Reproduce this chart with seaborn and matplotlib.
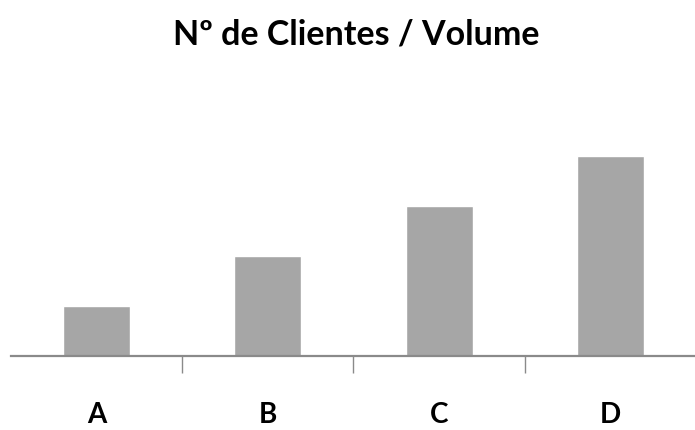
import matplotlib
matplotlib.use("Agg")
import matplotlib.pyplot as plt
import seaborn as sns
import pandas as pd
from matplotlib.ticker import FixedLocator

# Data
categories = ["A", "B", "C", "D"]
values = [1, 2, 3, 4]
title_text = "Nº de Clientes / Volume"

sns.set_theme(style="white")
plt.rcParams["font.family"] = ["Lato", "DejaVu Sans"]

df = pd.DataFrame({"categoria": categories, "valor": values})

fig = plt.figure(figsize=(6.95, 4.30), dpi=100)
ax = fig.add_axes([11 / 695, 74 / 430, 685 / 695, 220 / 430])

sns.barplot(data=df, x="categoria", y="valor", color="#A6A6A6",
            saturation=1, width=0.39, ax=ax)

ax.set_xlim(-0.5, 3.5)
ax.set_ylim(0, 4.4)
ax.set_xlabel("")
ax.set_ylabel("")
ax.set_yticks([])

for side in ["top", "right", "left"]:
    ax.spines[side].set_visible(False)
ax.spines["bottom"].set_color("#8A8A8A")
ax.spines["bottom"].set_linewidth(1.6)

# Category separators below the baseline
ax.xaxis.set_minor_locator(FixedLocator([0.5, 1.5, 2.5]))
ax.tick_params(axis="x", which="minor", bottom=True, length=12.5,
               width=1.0, color="#8A8A8A")
ax.tick_params(axis="x", which="major", bottom=False, length=0, pad=33,
               labelsize=20, labelcolor="#000000")
for lbl in ax.get_xticklabels():
    lbl.set_fontweight("bold")

fig.text(356 / 695, 1 - 34 / 430, title_text, ha="center", va="center",
         fontsize=24.5, fontweight="bold", color="#000000")

fig.savefig("out.png", dpi=100)
